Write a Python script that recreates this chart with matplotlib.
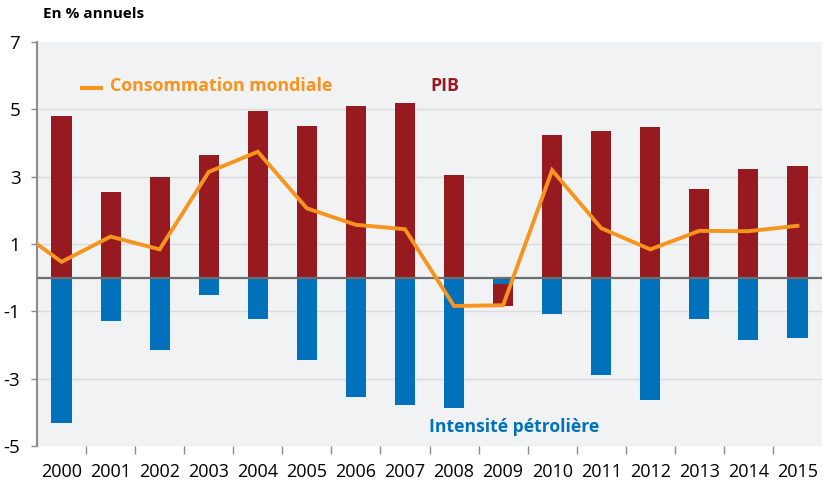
import numpy as np
import matplotlib
matplotlib.use('Agg')
import matplotlib.pyplot as plt

plt.rcParams['font.family'] = ['Open Sans', 'DejaVu Sans']
plt.rcParams['axes.unicode_minus'] = False

# Données (en % annuels)
annees = ['2000', '2001', '2002', '2003', '2004', '2005', '2006', '2007',
          '2008', '2009', '2010', '2011', '2012', '2013', '2014', '2015']
pib = [4.8, 2.53, 2.98, 3.64, 4.94, 4.51, 5.11, 5.2,
       3.04, -0.63, 4.24, 4.37, 4.49, 2.62, 3.22, 3.32]
intensite = [-4.32, -1.3, -2.14, -0.51, -1.22, -2.45, -3.55, -3.78,
             -3.88, -0.2, -1.07, -2.9, -3.63, -1.23, -1.85, -1.79]
conso_depart = 1.0  # valeur au bord gauche de l'axe
conso = [0.47, 1.22, 0.84, 3.14, 3.74, 2.06, 1.57, 1.44,
         -0.84, -0.82, 3.19, 1.47, 0.84, 1.39, 1.38, 1.54]

ROUGE = '#961A1F'
BLEU = '#0071BA'
ORANGE = '#F7941D'
FOND = '#F1F2F4'

fig = plt.figure(figsize=(8.23, 4.83), dpi=100)
W, H = 823, 483
ax = fig.add_axes([37 / W, (H - 446) / H, (822 - 37) / W, (446 - 42) / H])
ax.set_facecolor(FOND)

x = np.arange(len(annees))
xmin, xmax = -0.5, len(annees) - 0.5

# Barres : l'intensité part de zéro, le PIB s'empile quand les deux sont négatifs
pib_arr = np.array(pib)
int_arr = np.array(intensite)
bas_pib = np.where(pib_arr < 0, np.minimum(int_arr, 0), 0)
ax.bar(x, int_arr, width=0.41, color=BLEU, zorder=3)
ax.bar(x, pib_arr, width=0.41, bottom=bas_pib, color=ROUGE, zorder=3)

# Courbe de consommation
ax.plot(np.concatenate([[xmin], x]), [conso_depart] + conso,
        color=ORANGE, lw=2.8, zorder=4, solid_joinstyle='miter')

ax.axhline(0, color='#6E6E6E', lw=1.6, zorder=3.5)

ax.set_xlim(xmin, xmax)
ax.set_ylim(-5, 7)
ax.set_yticks(np.arange(-5, 8, 2))
ax.yaxis.grid(True, color='#DADBDE', lw=1.0, zorder=0)
ax.yaxis.get_gridlines()[-1].set_visible(False)
ax.set_axisbelow(True)

ax.set_xticks(x)
ax.set_xticklabels(annees)
ax.set_xticks(np.arange(0.5, len(annees) - 1, 1), minor=True)
ax.tick_params(axis='x', which='major', length=0, pad=12, labelsize=13)
ax.tick_params(axis='x', which='minor', length=6, color='#8C8C8C', width=1)
ax.tick_params(axis='y', length=4, color='#8C8C8C', width=1, pad=8, labelsize=13.5)

for s in ['top', 'right', 'bottom']:
    ax.spines[s].set_visible(False)
ax.spines['left'].set_color('#8C8C8C')
ax.spines['left'].set_linewidth(1.5)

# Étiquettes des séries
ax.plot([0.37, 0.84], [5.63, 5.63], color=ORANGE, lw=3, solid_capstyle='butt')
ax.text(0.98, 5.68, 'Consommation mondiale', color=ORANGE, fontsize=12.8,
        fontweight='bold', va='center', ha='left')
ax.text(7.82, 5.68, 'PIB', color=ROUGE, fontsize=12.8, fontweight='bold',
        va='center', ha='center')
ax.text(9.22, -4.43, 'Intensité pétrolière', color=BLEU, fontsize=12.6,
        fontweight='bold', va='center', ha='center')

fig.text(43 / W, 1 - 14 / H, 'En % annuels', fontsize=11, fontweight='bold',
         va='center', ha='left')

fig.savefig('out.png', dpi=100, facecolor='white')
